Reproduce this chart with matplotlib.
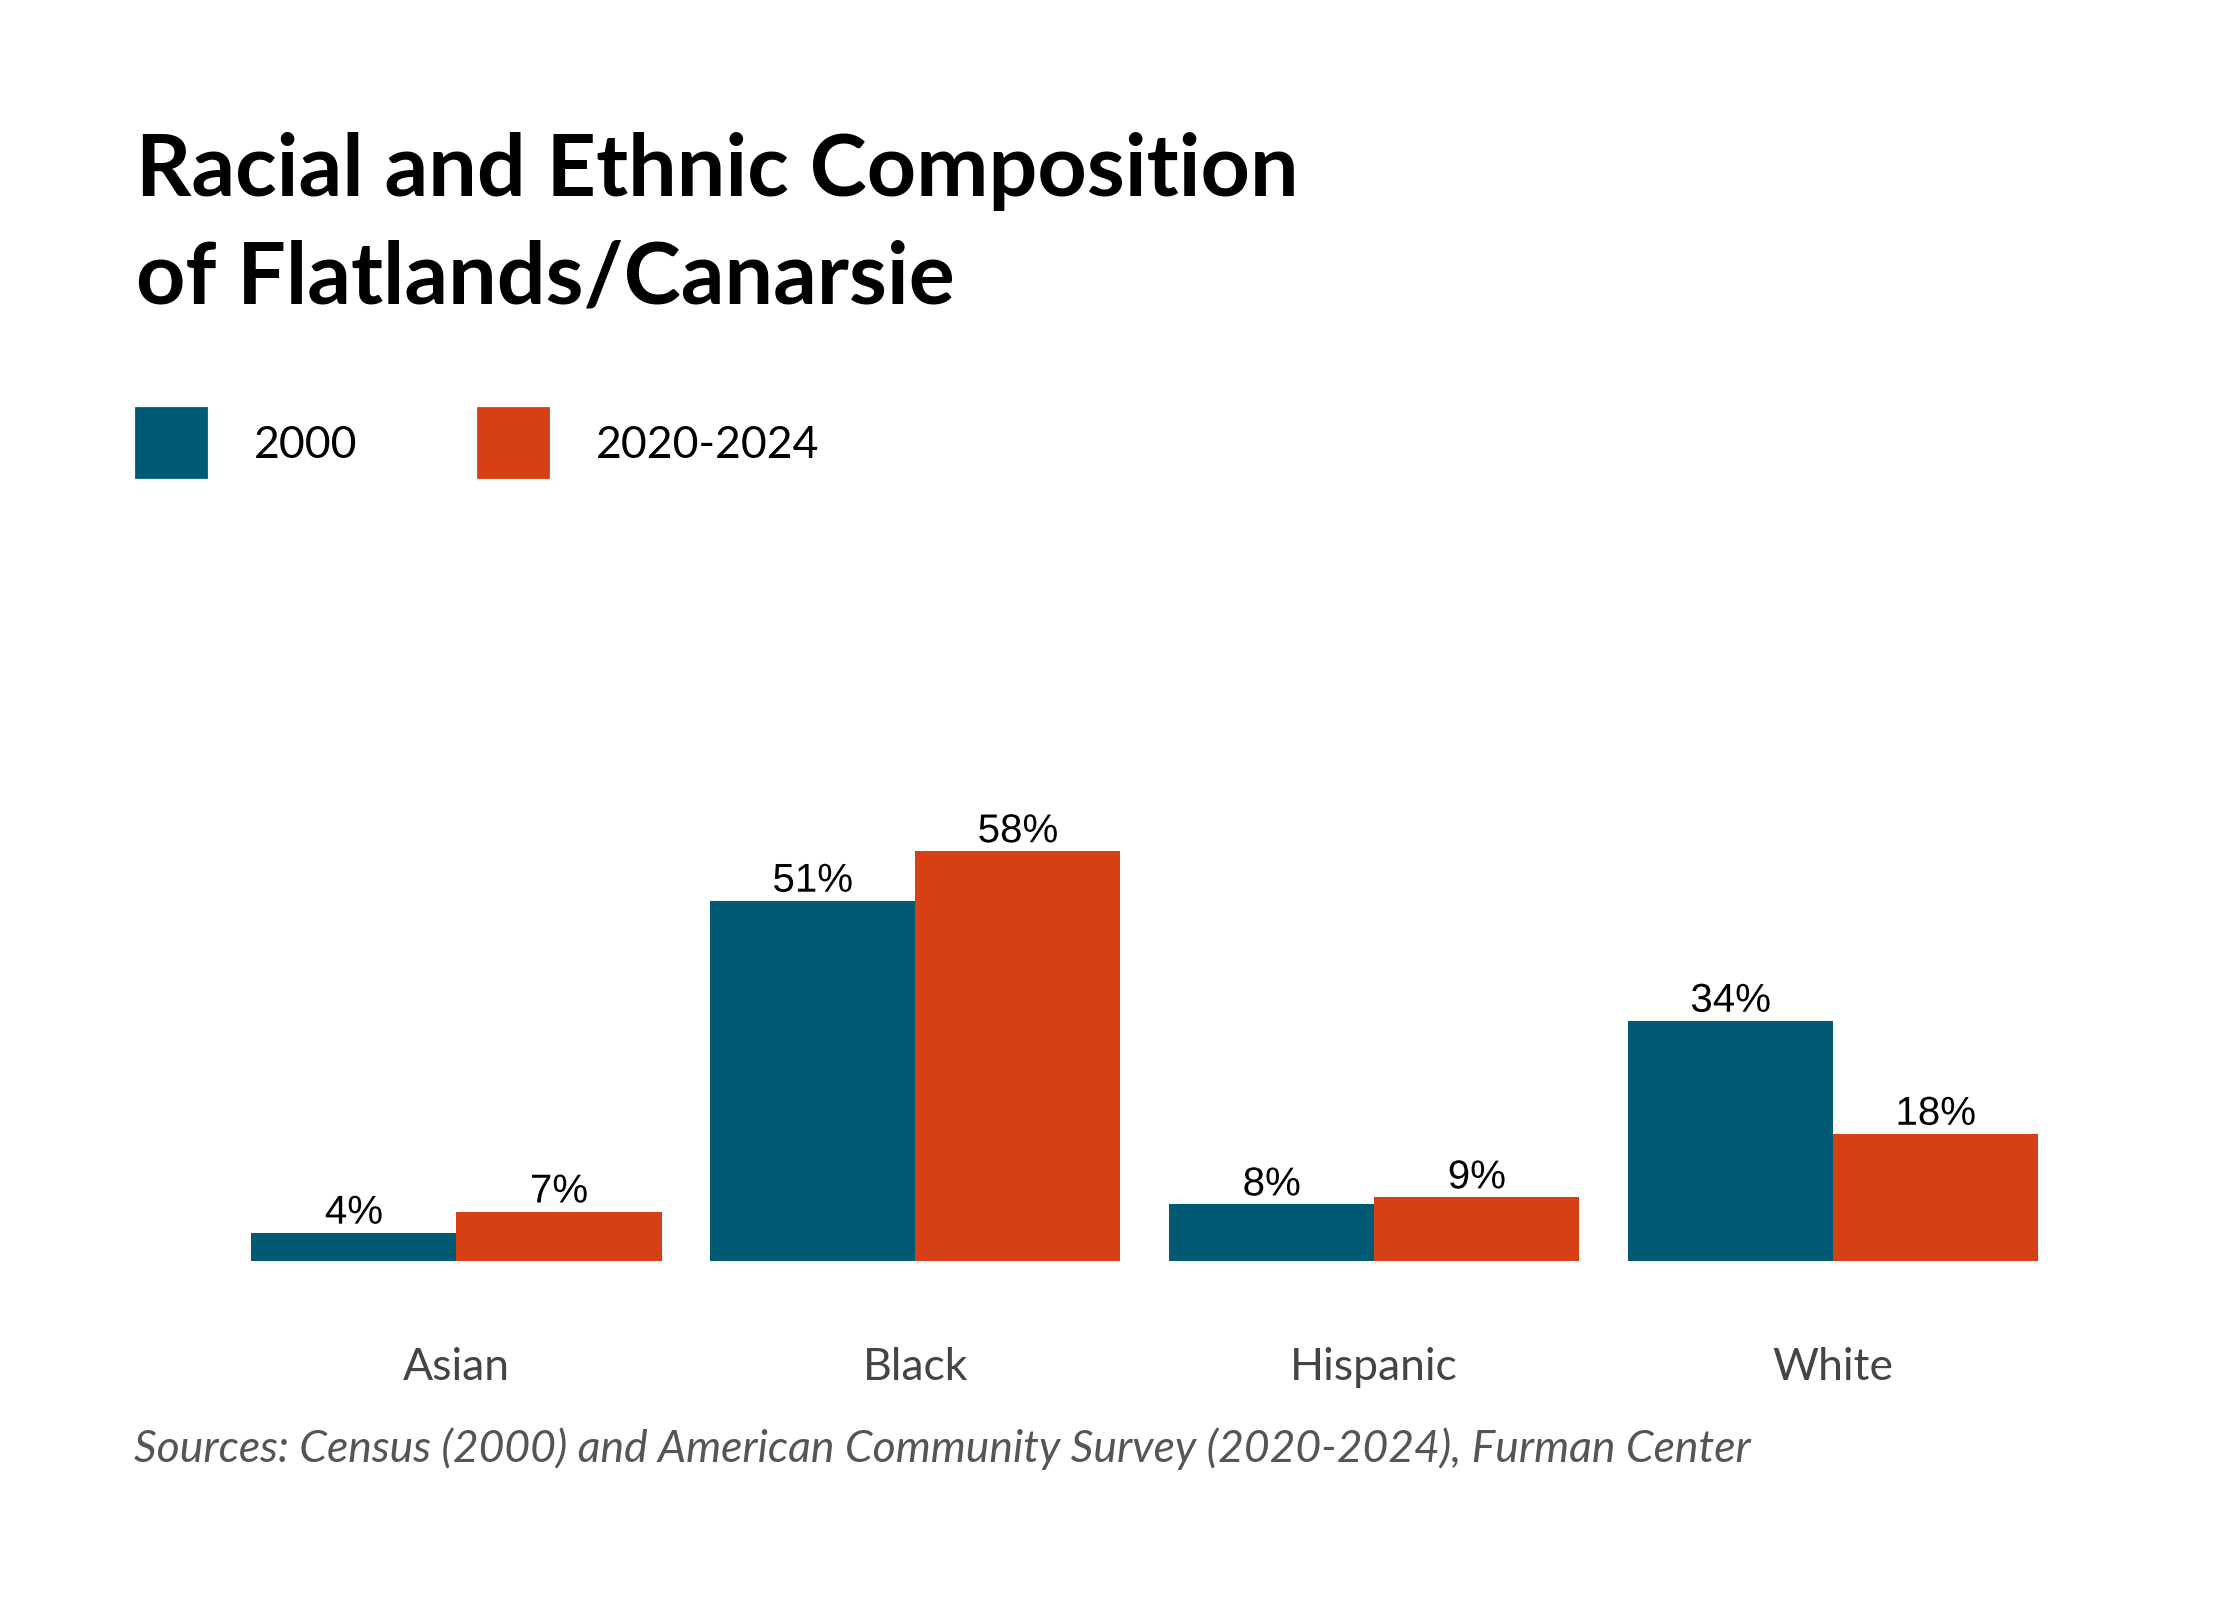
import matplotlib
matplotlib.use("Agg")
from matplotlib import pyplot as plt
import matplotlib.patheffects as pe
import numpy as np

categories = ["Asian", "Black", "Hispanic", "White"]
series_names = ["2000", "2020-2024"]
values_2000 = [4, 51, 8, 34]
values_2020 = [7, 58, 9, 18]
colors = ["#005a74", "#d64014"]

title = "Racial and Ethnic Composition\nof Flatlands/Canarsie"
source = "Sources: Census (2000) and American Community Survey (2020-2024), Furman Center"

fig = plt.figure(figsize=(11.2, 8), dpi=200)
ax = fig.add_axes([0.1013, 0.2119, 0.8195, 0.309])

x = np.arange(len(categories))
w = 0.447
bars1 = ax.bar(x - w / 2, values_2000, w, color=colors[0])
bars2 = ax.bar(x + w / 2, values_2020, w, color=colors[1])

for bars, vals in [(bars1, values_2000), (bars2, values_2020)]:
    for b, v in zip(bars, vals):
        ax.text(b.get_x() + b.get_width() / 2, v + 0.15, f"{v}%",
                ha="center", va="bottom", fontsize=14.5,
                family="Liberation Sans", color="black",
                path_effects=[pe.withStroke(linewidth=2, foreground="white")])

ax.set_xlim(-0.5, 3.5)
ax.set_ylim(0, 70)
ax.set_xticks(x)
ax.set_xticklabels(categories, fontsize=16, color="#444444", family="Lato")
ax.tick_params(axis="x", length=0, pad=31)
ax.set_yticks([])
for s in ax.spines.values():
    s.set_visible(False)

# title (baseline given for the last line)
fig.text(136 / 2240, 1 - 304 / 1600, title, fontsize=31, fontweight="bold",
         family="Lato", color="black", va="baseline", ha="left",
         linespacing=1.45)

# legend
for i, name in enumerate(series_names):
    x0 = [136, 478][i] / 2240
    fig.add_artist(plt.Rectangle((x0, 1 - 477 / 1600), 70 / 2240, 69 / 1600,
                                 color=colors[i], transform=fig.transFigure))
    fig.text([254, 596][i] / 2240, 1 - 445 / 1600, name, fontsize=16,
             family="Lato", va="center", ha="left", color="black")

fig.text(134 / 2240, 1 - 1449 / 1600, source, fontsize=16, style="italic",
         family="Lato", color="#555555", va="center", ha="left")

fig.savefig("out.png", dpi=200, facecolor="white")
